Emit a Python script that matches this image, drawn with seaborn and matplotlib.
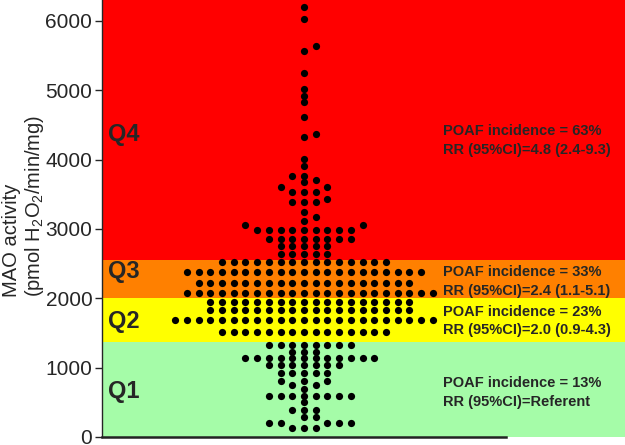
import matplotlib

matplotlib.use("Agg")
import matplotlib.pyplot as plt
import numpy as np
import seaborn as sns

# MAO activity, as dot rows: value level and number of dots
q4_levels = [6200, 6030, 5640, 5570, 5250, 5020, 4920, 4830, 4620, 4370, 4330,
             4010, 3910, 3765, 3705, 3680, 3605, 3535, 3435, 3390, 3245, 3175,
             3115, 3060, 2985, 2855, 2755, 2640]
q4_counts = [1, 1, 1, 1, 1, 1, 1, 1, 1, 1, 1,
             1, 1, 2, 1, 1, 2, 3, 1, 3, 1, 1,
             1, 2, 9, 8, 5, 5]
q3_levels = [2524, 2380, 2221, 2077]
q3_counts = [15, 21, 19, 22]
q2_levels = [1947, 1832, 1688, 1520]
q2_counts = [18, 18, 23, 15]
q1_levels = [1330, 1230, 1140, 1040, 923, 808, 750, 692, 591, 505, 389, 288, 202, 130]
q1_counts = [8, 3, 12, 7, 5, 3, 2, 1, 8, 1, 3, 2, 5, 3]

# quartile bands
band_names = ["Q1", "Q2", "Q3", "Q4"]
band_edges = [0, 1371, 2000, 2554, 6300]
band_colors = ["#a5fca8", "#ffff00", "#ff8000", "#ff0000"]
label_y = [650, 1660, 2380, 4357]

incidence = ["POAF incidence = 13%", "POAF incidence = 23%",
             "POAF incidence = 33%", "POAF incidence = 63%"]
risk = ["RR (95%CI)=Referent", "RR (95%CI)=2.0 (0.9-4.3)",
        "RR (95%CI)=2.4 (1.1-5.1)", "RR (95%CI)=4.8 (2.4-9.3)"]
incidence_y = [779, 1803, 2380, 4414]
risk_y = [505, 1543, 2106, 4140]


def swarm_slots(values, rise=80):
    """Bottom-up placement on a half-step grid, as close to the centre as possible."""
    order = np.argsort(values, kind="stable")
    slots = np.zeros(len(values))
    cand = [0.0]
    for k in range(1, 80):
        cand += [k * 0.5, -k * 0.5]
    done = []
    for i in order:
        near = [slots[j] for j in done if abs(values[j] - values[i]) < rise]
        for c in cand:
            if all(abs(c - s) >= 1 for s in near):
                slots[i] = c
                break
        done.append(i)
    return slots


levels = q4_levels + q3_levels + q2_levels + q1_levels
counts = q4_counts + q3_counts + q2_counts + q1_counts
mao = np.repeat(np.array(levels, dtype=float), counts)
xpos = swarm_slots(mao) * 0.058

sns.set_style("ticks")
plt.rcParams["font.family"] = ["Liberation Sans", "DejaVu Sans"]
plt.rcParams["mathtext.fontset"] = "custom"
plt.rcParams["mathtext.rm"] = "Liberation Sans"

fig = plt.figure(figsize=(6.25, 4.45), dpi=100)
ax = fig.add_axes([102 / 625, 8 / 445, 404 / 625, 437 / 445])

for lo, hi, color in zip(band_edges[:-1], band_edges[1:], band_colors):
    ax.axhspan(lo, hi, xmin=0, xmax=523 / 404, color=color, lw=0,
               clip_on=False, zorder=0)

sns.scatterplot(x=xpos, y=mao, ax=ax, color="black", s=27, linewidth=0,
                legend=False, zorder=3)

trans = ax.get_yaxis_transform()
for name, y in zip(band_names, label_y):
    ax.text(0.015, y, name, transform=trans, fontsize=17, fontweight="bold",
            va="center", ha="left")
for t1, y1, t2, y2 in zip(incidence, incidence_y, risk, risk_y):
    ax.text(0.844, y1, t1, transform=trans, fontsize=10.5, fontweight="bold",
            va="center", ha="left")
    ax.text(0.844, y2, t2, transform=trans, fontsize=10.5, fontweight="bold",
            va="center", ha="left")

ax.set_xlim(-1, 1)
ax.set_ylim(0, 6300)
ax.set_xticks([])
ax.set_yticks(range(0, 7000, 1000))
ax.tick_params(axis="y", length=5, width=1, labelsize=15, pad=2)
ax.set_xlabel("")
ax.set_ylabel("")
ax.patch.set_visible(False)
for side in ["top", "right"]:
    ax.spines[side].set_visible(False)
ax.spines["left"].set_linewidth(1)
ax.spines["bottom"].set_linewidth(1.8)
ax.spines["bottom"].set_color("#222222")

fig.text(12 / 625, 1 - 240 / 445, "MAO activity", rotation=90,
         ha="center", va="center", fontsize=14.5)
fig.text(35 / 625, 1 - 206 / 445, "(pmol H$_2$O$_2$/min/mg)", rotation=90,
         ha="center", va="center", fontsize=14.5)

fig.savefig("out.png", dpi=100)
